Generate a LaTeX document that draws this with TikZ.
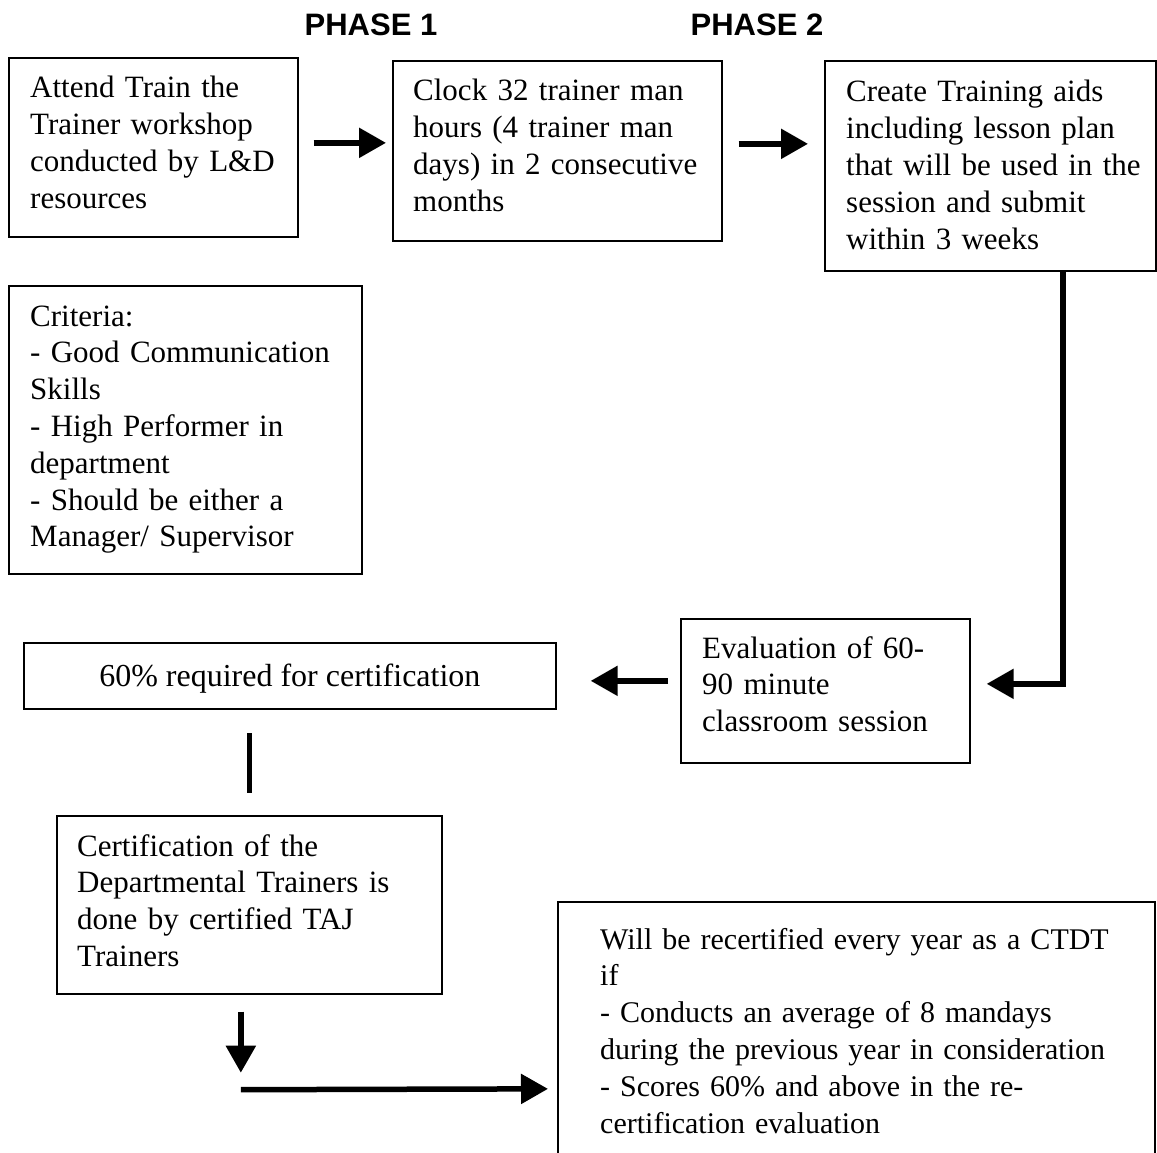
\documentclass[tikz,border=0pt]{standalone}
\usepackage{fontspec}
\setmainfont{Liberation Serif}
\newfontfamily\headfont{Liberation Sans}
\usetikzlibrary{arrows.meta,calc}
\begin{document}
\begin{tikzpicture}[x=1pt,y=-1pt,
  box/.style={draw=black,line width=1.7pt,inner sep=0pt,anchor=north west},
  txt/.style={inner sep=0pt,anchor=base west,align=left,text width=580pt,
    font=\fontsize{31}{36.8}\selectfont},
  head/.style={inner sep=0pt,anchor=base,font=\headfont\bfseries\fontsize{31}{36}\selectfont},
  arr/.style={line width=5.5pt,-{Triangle[length=27pt,width=29pt]}},
  bar/.style={line width=5.5pt}]
\fill[white] (0,0) rectangle (1157,1153);
\useasboundingbox (0,0) rectangle (1157,1153);

% phase headings
\node[head] (ph1) at (371,36) {PHASE 1};
\node[head] (ph2) at (757,36) {PHASE 2};

% boxes
\node[box,minimum width=289pt,minimum height=179pt] (b1) at (8,57) {};
\node[box,minimum width=329pt,minimum height=180pt] (b2) at (392,60) {};
\node[box,minimum width=331pt,minimum height=210pt] (b3) at (824,60) {};
\node[box,minimum width=353pt,minimum height=288pt] (crit) at (8,285) {};
\node[box,minimum width=289pt,minimum height=144pt] (eval) at (680,618) {};
\node[box,minimum width=532pt,minimum height=66pt] (pct) at (23,642) {};
\node[box,minimum width=385pt,minimum height=178pt] (cert) at (56,815) {};
\node[box,minimum width=597pt,minimum height=260pt] (recert) at (557,901) {};

% box texts
\node[txt] (t1) at ($(b1.north west)+(22,41)$) {Attend Train the\\Trainer workshop\\conducted by L\&D\\resources};
\node[txt] (t2) at ($(b2.north west)+(21,41)$) {Clock 32 trainer man\\hours (4 trainer man\\days) in 2 consecutive\\months};
\node[txt] (t3) at ($(b3.north west)+(22,42)$) {Create Training aids\\including lesson plan\\that will be used in the\\session and submit\\within 3 weeks};
\node[txt] (tc) at ($(crit.north west)+(22,41)$) {Criteria:\\- Good Communication\\Skills\\- High Performer in\\department\\- Should be either a\\Manager/ Supervisor};
\node[txt] (te) at ($(eval.north west)+(22,40)$) {Evaluation of 60-\\90 minute\\classroom session};
\node[inner sep=0pt,anchor=base,font=\fontsize{32}{37}\selectfont] (tp) at ($(pct.north)+(0,44)$) {60\% required for certification};
\node[txt] (tct) at ($(cert.north west)+(21,41)$) {Certification of the\\Departmental Trainers is\\done by certified TAJ\\Trainers};
\node[txt,font=\fontsize{30}{36.8}\selectfont] (tr) at ($(recert.north west)+(43,48)$) {Will be recertified every year as a CTDT\\if\\- Conducts an average of 8 mandays\\during the previous year in consideration\\- Scores 60\% and above in the re-\\certification evaluation};

% connectors
\draw[arr] ($(b1.east)+(15,-4.5)$) -- ($(b2.west)+(-6,-8)$);
\draw[arr] ($(b2.east)+(16,-7)$) -- ($(b3.west)+(-16,-22)$);
\draw[arr] ($(b3.south west)+(239,0)$) |- ($(eval.east)+(16,-7)$);
\draw[arr] ($(eval.west)+(-12,-10)$) -- ($(pct.east)+(34,5)$);
\draw[bar] ($(cert.north)+(0,-82)$) -- ($(cert.north)+(0,-22)$);
\draw[arr] ($(cert.south)+(-8.5,17)$) -- ($(cert.south)+(-8.5,78)$);
\draw[arr] ($(cert.south)+(-8.5,95)$) -- ($(recert.west)+(-9,57)$);
\end{tikzpicture}
\end{document}
